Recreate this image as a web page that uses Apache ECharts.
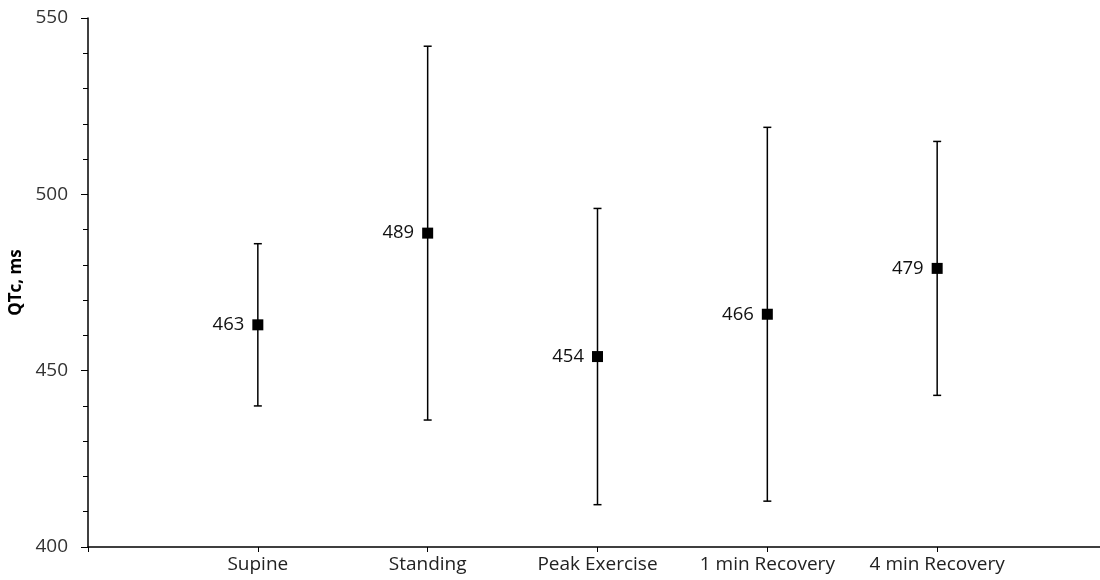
<!DOCTYPE html>
<html>
<head>
<meta charset="utf-8">
<script src="https://cdn.jsdelivr.net/npm/echarts@6/dist/echarts.min.js"></script>
<style>
  html, body { margin: 0; padding: 0; background: #fff; }
  #chart { width: 1100px; height: 580px; }
</style>
</head>
<body>
<div id="chart"></div>
<script>
const categories = ['Supine', 'Standing', 'Peak Exercise', '1 min Recovery', '4 min Recovery']
const means = [463, 489, 454, 466, 479]
const lower = [440, 436, 412, 413, 443]
const upper = [486, 542, 496, 519, 515]
const yTicks = [400, 450, 500, 550]

// blank slots at both ends so the points sit one step in from the axis
const xSlots = [''].concat(categories, [''])

const chart = echarts.init(document.getElementById('chart'))

const errData = categories.map((c, i) => [i + 1, lower[i], upper[i]])
const pointData = categories.map((c, i) => [i + 1, means[i]])

const option = {
    animation: false,
    grid: { left: 88, top: 18, width: 1019, height: 529, outerBoundsMode: 'none' },
    xAxis: {
        type: 'category',
        data: xSlots,
        boundaryGap: false,
        axisLine: { lineStyle: { color: '#000', width: 1.5 } },
        axisTick: { length: 5, lineStyle: { color: '#000' } },
        axisLabel: { color: '#222', fontFamily: 'Open Sans', fontSize: 19, margin: 8, interval: 0 },
        splitLine: { show: false }
    },
    yAxis: {
        type: 'value',
        min: yTicks[0],
        max: yTicks[yTicks.length - 1],
        interval: 50,
        name: 'QTc, ms',
        nameLocation: 'middle',
        nameGap: 60,
        nameTextStyle: { color: '#000', fontFamily: 'Open Sans', fontSize: 17, fontWeight: 'bold' },
        axisLine: { show: true, lineStyle: { color: '#000', width: 1.5 } },
        axisTick: { show: true, length: 7, lineStyle: { color: '#000' } },
        minorTick: { show: true, splitNumber: 5, length: 5, lineStyle: { color: '#000' } },
        axisLabel: { color: '#333', fontFamily: 'Open Sans', fontSize: 19, margin: 20 },
        splitLine: { show: false }
    },
    series: [
        {
            type: 'custom',
            data: errData,
            z: 1,
            renderItem: function (params, api) {
                const x = api.value(0)
                const lo = api.coord([x, api.value(1)])
                const hi = api.coord([x, api.value(2)])
                const cap = 4
                const style = { stroke: '#000', lineWidth: 1.5 }
                return {
                    type: 'group',
                    children: [
                        { type: 'line', shape: { x1: lo[0], y1: lo[1], x2: hi[0], y2: hi[1] }, style: style },
                        { type: 'line', shape: { x1: hi[0] - cap, y1: hi[1], x2: hi[0] + cap, y2: hi[1] }, style: style },
                        { type: 'line', shape: { x1: lo[0] - cap, y1: lo[1], x2: lo[0] + cap, y2: lo[1] }, style: style }
                    ]
                }
            }
        },
        {
            type: 'scatter',
            data: pointData,
            z: 2,
            symbol: 'rect',
            symbolSize: 11,
            itemStyle: { color: '#000', opacity: 1 },
            label: {
                show: true,
                position: 'left',
                distance: 8,
                color: '#111',
                fontFamily: 'Open Sans',
                fontSize: 18.5,
                formatter: function (p) { return p.value[1] }
            }
        }
    ]
}
chart.setOption(option)
</script>
</body>
</html>
